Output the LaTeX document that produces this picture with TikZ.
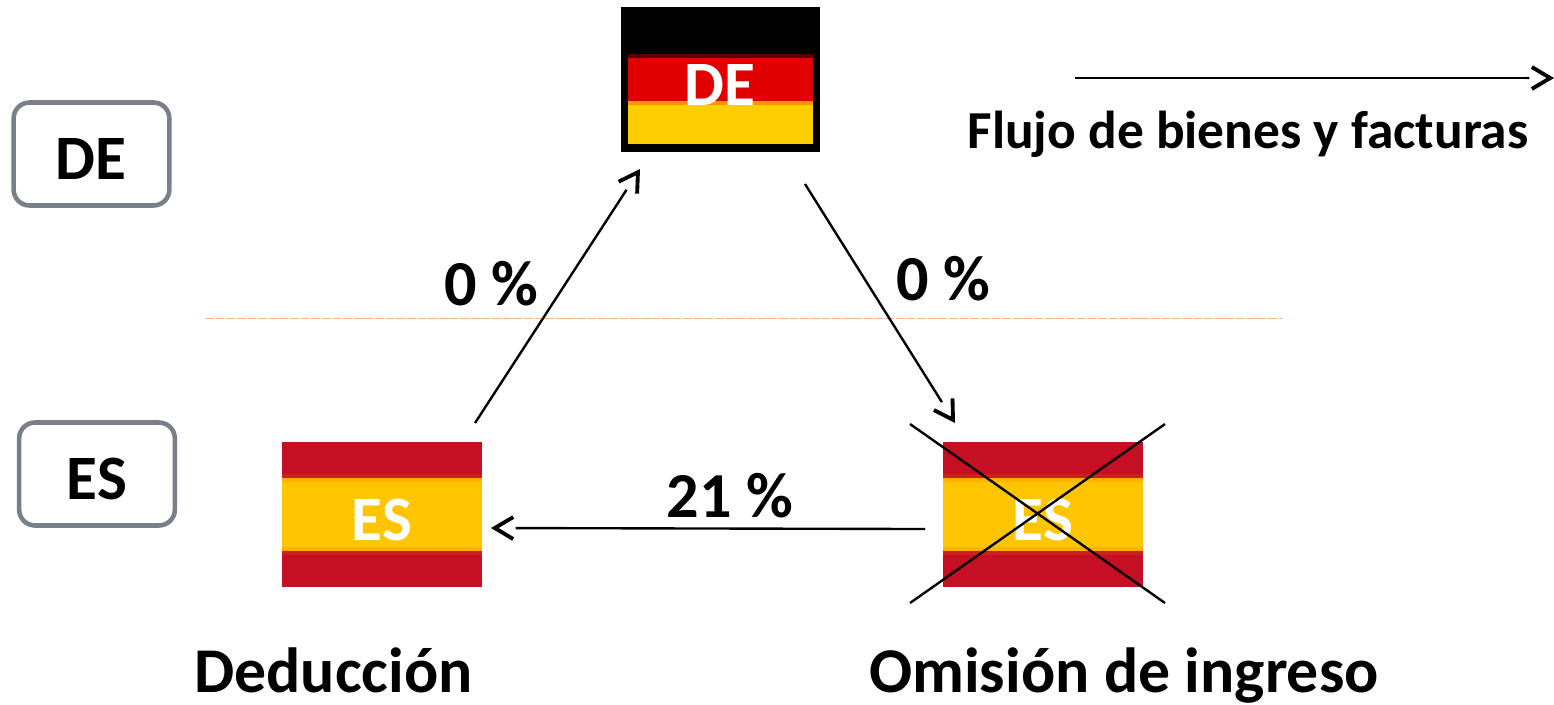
\documentclass[tikz,border=0pt]{standalone}
\usepackage{xcolor}
\usepackage{fontspec}
\setmainfont{Carlito}
\definecolor{FlagRed}{RGB}{198,15,35}
\definecolor{FlagRedEdge}{RGB}{205,32,30}
\definecolor{FlagGold}{RGB}{255,198,0}
\definecolor{FlagGoldEdge}{RGB}{252,180,0}
\definecolor{DeRed}{RGB}{224,0,0}
\definecolor{DeDark}{RGB}{90,0,0}
\definecolor{DeGold}{RGB}{255,206,0}
\definecolor{DeOrange}{RGB}{250,150,0}
\definecolor{BoxGray}{RGB}{122,127,138}
\definecolor{DashOrange}{RGB}{250,178,130}
\usetikzlibrary{arrows.meta}
\tikzset{
  flow/.style={line width=1.35pt,-{Butt Cap[sep=0.3pt].Straight Barb[length=10.5pt,width=12.5pt,line width=2.2pt]}},
  cross/.style={line width=1.35pt},
  country/.style={draw=BoxGray,line width=2.6pt,rounded corners=9pt,minimum width=88.6pt,minimum height=58.6pt,inner sep=0pt},
  countrytext/.style={anchor=base,inner sep=0pt,font=\fontsize{36}{36}\selectfont\bfseries},
  flagtext/.style={anchor=base,text=white,inner sep=0pt,font=\fontsize{36}{36}\selectfont\bfseries},
  caption/.style={anchor=base,inner sep=0pt,font=\fontsize{36.3}{36.3}\selectfont\bfseries},
  rate/.style={anchor=base,inner sep=0pt,font=\fontsize{36.5}{36.5}\selectfont\bfseries},
  legend/.style={anchor=base,inner sep=0pt,font=\fontsize{30.4}{30.4}\selectfont\bfseries}
}
% one spanish flag, #1 is the left edge in px
\newcommand{\esflag}[1]{
  \fill[FlagRed] (#1,442) rectangle ++(200,145);
  \fill[FlagRedEdge] (#1,474) rectangle ++(200,81);
  \fill[FlagGoldEdge] (#1,478) rectangle ++(200,73);
  \fill[FlagGold] (#1,482) rectangle ++(200,65);
}
\begin{document}
\begin{tikzpicture}[x=0.02cm,y=-0.02cm]
  \useasboundingbox (0,0) rectangle (1554,704);

  % country boxes
  \node[country] (boxde) at (91.5,154) {};
  \node[countrytext] (textde) at (91,179) {DE};
  \node[country] (boxes) at (97,474) {};
  \node[countrytext] (textes) at (97,499) {ES};

  % flags
  \fill[black] (621,7) rectangle (820,152);
  \fill[DeDark] (628,54) rectangle (813,58);
  \fill[DeRed] (628,58) rectangle (813,101);
  \fill[DeOrange] (628,101) rectangle (813,105);
  \fill[DeGold] (628,105) rectangle (813,144);
  \node[flagtext] (flagde) at (720,105) {DE};
  \esflag{282}
  \node[flagtext] (flagesleft) at (382,540) {ES};
  \esflag{942.5}
  \node[flagtext] (flagesright) at (1043,540) {ES};

  % border line
  \coordinate (borderleft) at (205,318.5);
  \coordinate (borderright) at (1283,318.5);
  \draw[DashOrange,line width=1.1pt,dash pattern=on 5pt off 1.05pt] (borderleft) -- (borderright);

  % flows
  \coordinate (deductionout) at (475,423);
  \coordinate (dein) at (640,169);
  \coordinate (deout) at (805,184);
  \coordinate (omissionin) at (955,423);
  \coordinate (omissionout) at (925,529);
  \coordinate (deductionin) at (491,528);
  \coordinate (legendstart) at (1075,78);
  \coordinate (legendend) at (1554,78);
  \draw[flow] (deductionout) -- (dein);
  \draw[flow] (deout) -- (omissionin);
  \draw[flow] (omissionout) -- (deductionin);
  \draw[flow] (legendstart) -- (legendend);

  % crossed out flag
  \coordinate (crossnw) at (910,424);
  \coordinate (crossne) at (1165,424);
  \coordinate (crosssw) at (910,603);
  \coordinate (crossse) at (1165,603);
  \draw[cross] (crossnw) -- (crossse);
  \draw[cross] (crosssw) -- (crossne);

  % labels
  \node[rate] (ratededuction) at (491,305) {0 \%};
  \node[rate] (rateomission) at (943,300) {0 \%};
  \node[rate] (ratespain) at (730,517) {21 \%};
  \node[legend] (legendtext) at (1248,148) {Flujo de bienes y facturas};
  \node[caption] (deduction) at (333.5,692) {Deducción};
  \node[caption] (omission) at (1124,692) {Omisión de ingreso};
\end{tikzpicture}
\end{document}
